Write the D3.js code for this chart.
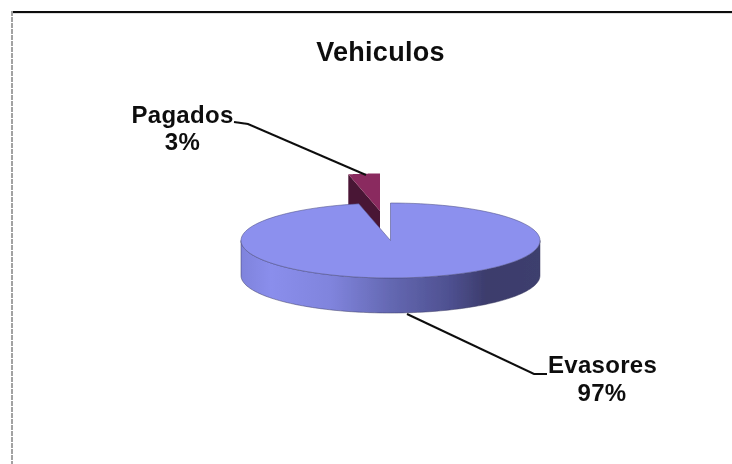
<!DOCTYPE html>
<html><head><meta charset="utf-8">
<script src="https://cdn.jsdelivr.net/npm/d3@7/dist/d3.min.js"></script>
<style>html,body{margin:0;padding:0;background:#fff}svg{display:block}</style>
</head><body><svg id="c" width="732" height="464"></svg>
<script>
const title = "Vehiculos";
const categories = ["Evasores", "Pagados"];
const values = [96.6, 3.4];
const faceColors = ["#8c90ee", "#8a2c5e"];
const cutColors = ["#3a3a68", "#4a1434"];

const svg = d3.select("#c");
const cx = 390.5, cy = 240.5, rx = 149.5, ry = 37.5, depth = 35;
const explode = {x: -10.5, y: -29.5};

const pie = d3.pie().sort(null).value(d => d);
const arcs = pie(values);
const px = a => cx + rx * Math.sin(a);
const py = a => cy - ry * Math.cos(a);
const arcPts = (a0, a1) => d3.range(0, 121).map(i => {
  const a = a0 + (a1 - a0) * i / 120;
  return [px(a), py(a)];
});
const line = d3.line();

const defs = svg.append("defs");
const grad = defs.append("linearGradient").attr("id", "wall")
  .attr("gradientUnits", "userSpaceOnUse")
  .attr("x1", cx - rx).attr("x2", cx + rx).attr("y1", 0).attr("y2", 0);
[[0, "#7f83dc"], [0.1, "#8a8eec"], [0.3, "#8084dd"], [0.5, "#6468b2"], [0.7, "#4e5090"], [0.82, "#3c3c6c"], [1, "#3e3f6e"]]
  .forEach(s => grad.append("stop").attr("offset", s[0]).attr("stop-color", s[1]));
defs.append("filter").attr("id", "soft").attr("x", "-5%").attr("y", "-5%").attr("width", "110%").attr("height", "110%")
  .append("feGaussianBlur").attr("stdDeviation", 0.45);

const root = svg.append("g").attr("filter", "url(#soft)");

// frame
root.append("rect").attr("x", 11).attr("y", 13).attr("width", 721).attr("height", 1).attr("fill", "#ddd");
root.append("rect").attr("x", 11).attr("y", 11).attr("width", 721).attr("height", 2).attr("fill", "#111");
svg.append("line").attr("x1", 12).attr("x2", 12).attr("y1", 11).attr("y2", 464).attr("stroke", "#a2a2a2").attr("stroke-width", 2).attr("stroke-dasharray", "5 1");

// exploded Pagados wedge
const p = arcs[1];
const gP = root.append("g").attr("transform", `translate(${explode.x},${explode.y})`);
const corner = [px(p.startAngle), py(p.startAngle)], apex = [cx, cy];
gP.append("path")
  .attr("d", line([corner, apex, [cx, cy + depth], [corner[0], corner[1] + depth]]) + "Z")
  .attr("fill", cutColors[1]);
gP.append("path")
  .attr("d", line([apex, ...arcPts(p.startAngle, p.endAngle)]) + "Z")
  .attr("fill", faceColors[1]);

// Evasores wall + top
const m = arcs[0];
const front = arcPts(Math.PI / 2, 3 * Math.PI / 2);
const wall = front.concat(front.slice().reverse().map(d => [d[0], d[1] + depth]));
root.append("path").attr("d", line(wall) + "Z").attr("fill", "url(#wall)").attr("stroke", "#3b3b60").attr("stroke-width", 0.5);
root.append("path").attr("d", line([apex, ...arcPts(m.startAngle, m.endAngle)]) + "Z")
  .attr("fill", faceColors[0]).attr("stroke", "#55578f").attr("stroke-width", 0.6);

// leader lines
const lead = (pts) => root.append("path").attr("d", line(pts)).attr("fill", "none").attr("stroke", "#111").attr("stroke-width", 2);
lead([[234, 122], [248, 124], [366, 175]]);
lead([[407, 314], [534, 374], [547, 374]]);

// text
const txt = (x, y, s, size, ls) => root.append("text").attr("x", x).attr("y", y).attr("text-anchor", "middle")
  .attr("font-family", "'Liberation Sans', Arial, sans-serif").attr("font-weight", "bold").attr("font-size", size)
  .attr("letter-spacing", ls).attr("fill", "#111").text(s);
txt(380.5, 61, title, 27, 0.3);
txt(182.5, 123, categories[1], 24, 0.3);
txt(182.5, 150, Math.round(values[1]) + "%", 24, 0.3);
txt(602.5, 373, categories[0], 24, 0.3);
txt(602, 401, Math.round(values[0]) + "%", 24, 0.3);
</script></body></html>
